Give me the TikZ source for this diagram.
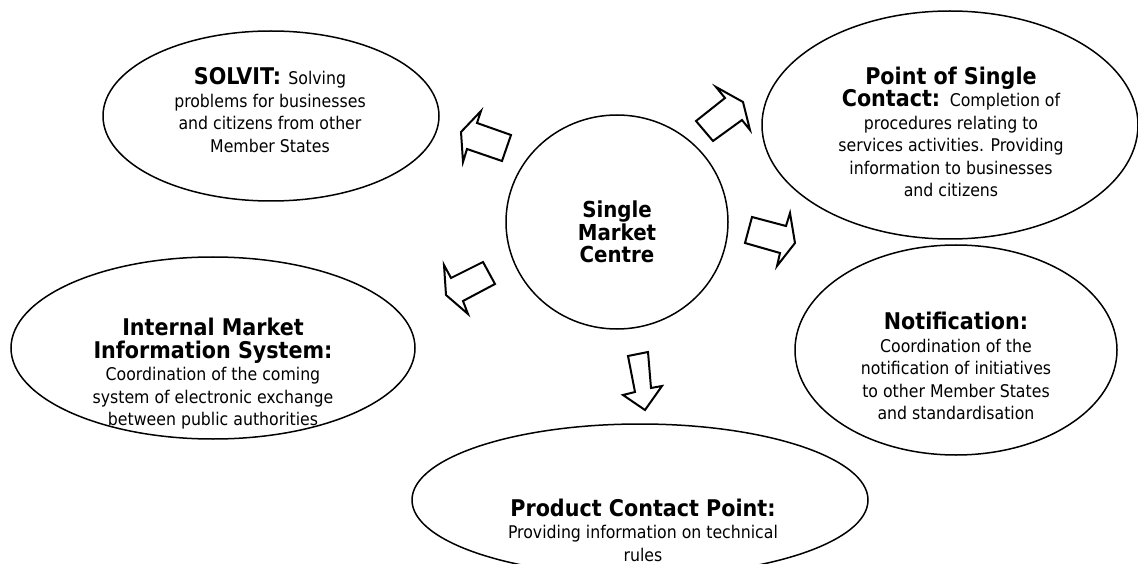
\documentclass[tikz,border=0pt]{standalone}
\usepackage{fontspec}
\setmainfont{DejaVu Sans Condensed}
\usetikzlibrary{shapes.geometric}
\newcommand\hdfont{\bfseries\fontsize{23}{25}\selectfont}
\newcommand\ctfont{\bfseries\fontsize{22}{26}\selectfont}
\newcommand\bdfont{\mdseries\fontsize{17.5}{22.5}\selectfont}
\begin{document}
\begin{tikzpicture}[x=1pt,y=-1pt,
  oval/.style={draw, ellipse, line width=1.5pt, inner sep=0pt},
  blockarrow/.style={draw, line width=2pt, fill=white, line join=miter},
  txt/.style={align=center, inner sep=0pt, font=\bdfont}]
\useasboundingbox (0,0) rectangle (1138,564);

% ovals
\node[oval, minimum width=336, minimum height=170] (solvit) at (271,116) {};
\node[oval, minimum width=376, minimum height=228] (psc) at (950,125) {};
\node[oval, minimum width=222, minimum height=214] (centre) at (617,222) {};
\node[oval, minimum width=404, minimum height=182] (ims) at (213,348) {};
\node[oval, minimum width=322, minimum height=210] (notif) at (956,350) {};
\node[oval, minimum width=456, minimum height=152] (pcp) at (640,500) {};

% texts
\node[txt] (solvittxt) at (270,110)
  {\hdfont SOLVIT: \bdfont Solving\\\bdfont problems for businesses\\\bdfont and citizens from other\\\bdfont Member States};
\node[txt] (psctxt) at (951,132)
  {\hdfont Point of Single\\\hdfont Contact: \bdfont Completion of\\\bdfont procedures relating to\\\bdfont services activities. Providing\\\bdfont information to businesses\\\bdfont and citizens};
\node[txt] (centretxt) at (617,232)
  {\ctfont Single\\\ctfont Market\\\ctfont Centre};
\node[txt] (imstxt) at (213,374)
  {\hdfont Internal Market\\\hdfont Information System:\\\bdfont Coordination of the coming\\\bdfont system of electronic exchange\\\bdfont between public authorities};
\node[txt] (notiftxt) at (956,366)
  {\hdfont Notification:\\\bdfont Coordination of the\\\bdfont notification of initiatives\\\bdfont to other Member States\\\bdfont and standardisation};
\node[txt] (pcptxt) at (643,530)
  {\hdfont Product Contact Point:\\\bdfont Providing information on technical\\\bdfont rules};

% block arrows pointing out of the centre
\draw[blockarrow] (461,132) -- (481,111) -- (477,123) -- (511,135) -- (502,161) -- (467,149) -- (463,162) -- cycle;
\draw[blockarrow] (444,265) -- (451,278) -- (483,262) -- (495,284) -- (463,301) -- (468,314) -- (446,295) -- cycle;
\draw[blockarrow] (628,356) -- (648,352) -- (651,388) -- (662,386) -- (645,410) -- (623,395) -- (635,392) -- cycle;
\draw[blockarrow] (743,102) -- (716,87) -- (725,98) -- (696,121) -- (713,141) -- (742,120) -- (750,130) -- cycle;
\draw[blockarrow] (795,243) -- (790,213) -- (786,226) -- (752,217) -- (745,243) -- (780,253) -- (777,266) -- cycle;
\end{tikzpicture}
\end{document}
